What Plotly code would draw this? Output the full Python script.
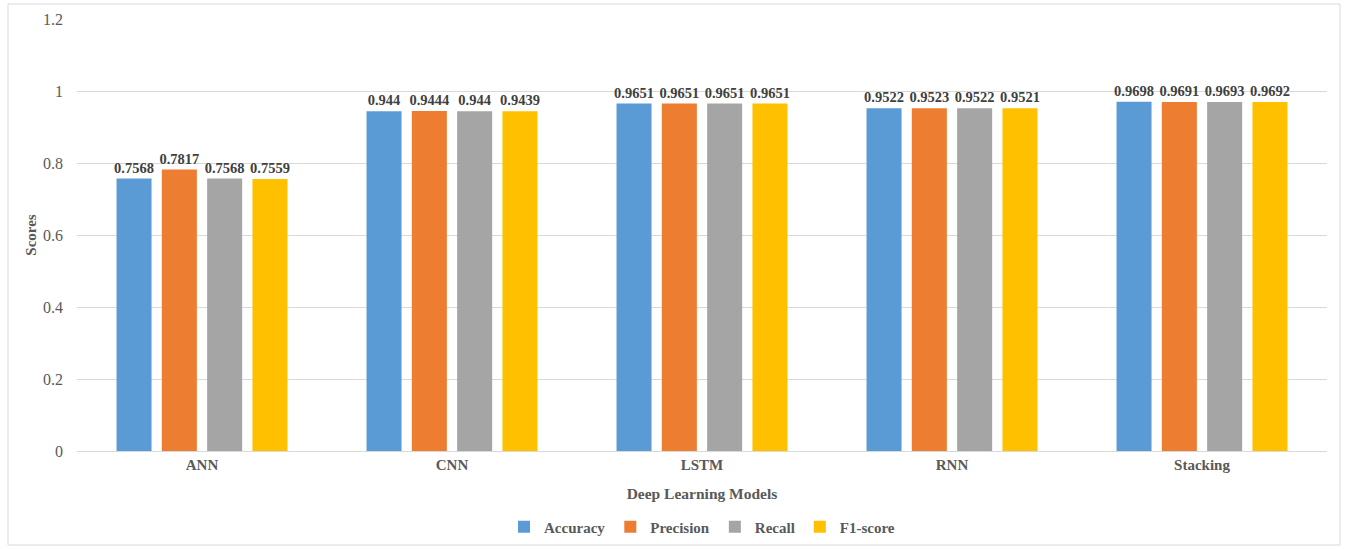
import plotly.graph_objects as go

models = ["ANN", "CNN", "LSTM", "RNN", "Stacking"]
accuracy = [0.7568, 0.944, 0.9651, 0.9522, 0.9698]
precision = [0.7817, 0.9444, 0.9651, 0.9523, 0.9691]
recall = [0.7568, 0.944, 0.9651, 0.9522, 0.9693]
f1_score = [0.7559, 0.9439, 0.9651, 0.9521, 0.9692]

series = [
    ("Accuracy", accuracy, "#5b9bd5"),
    ("Precision", precision, "#ed7d31"),
    ("Recall", recall, "#a5a5a5"),
    ("F1-score", f1_score, "#ffc000"),
]

serif = "Liberation Serif, Times New Roman, serif"

fig = go.Figure()
for name, vals, color in series:
    fig.add_trace(go.Bar(
        name=name,
        x=models,
        y=vals,
        marker=dict(color=color, line=dict(width=0)),
        text=[f"{v:g}" for v in vals],
        textposition="outside",
        constraintext="none",
        textfont=dict(family=serif, size=14.5, color="#404040", weight="bold"),
        cliponaxis=False,
    ))

fig.update_layout(
    width=1349,
    height=549,
    paper_bgcolor="white",
    plot_bgcolor="white",
    margin=dict(l=77, r=22, t=19, b=98, autoexpand=False),
    barmode="group",
    bargap=0.275,
    bargroupgap=0.227,
    font=dict(family=serif, color="#595959"),
    xaxis=dict(
        showgrid=False,
        showline=True,
        linecolor="#d9d9d9",
        linewidth=1,
        ticks="",
        tickfont=dict(family=serif, size=15, color="#595959", weight="bold"),
        title=dict(text="Deep Learning Models",
                   font=dict(family=serif, size=15.5, color="#595959", weight="bold"),
                   standoff=16),
    ),
    yaxis=dict(
        range=[0, 1.2],
        dtick=0.2,
        showgrid=True,
        gridcolor="#d9d9d9",
        gridwidth=1,
        zeroline=False,
        showline=False,
        ticks="",
        ticklabelstandoff=13,
        tickfont=dict(family=serif, size=16, color="#595959"),
        title=dict(text="Scores",
                   font=dict(family=serif, size=15, color="#595959", weight="bold"),
                   standoff=2),
    ),
    legend=dict(
        orientation="h",
        x=0.5,
        xanchor="center",
        yref="container",
        y=0.04,
        yanchor="middle",
        font=dict(family=serif, size=15, color="#595959", weight="bold"),
        itemwidth=30,
        tracegroupgap=0,
    ),
    shapes=[dict(
        type="rect",
        xref="paper", yref="paper",
        x0=-0.0552, x1=1.0104, y0=-0.2176, y1=1.0347,
        line=dict(color="#d9d9d9", width=1),
        fillcolor="rgba(0,0,0,0)",
        layer="below",
    )],
)

fig.write_html("out.html")
